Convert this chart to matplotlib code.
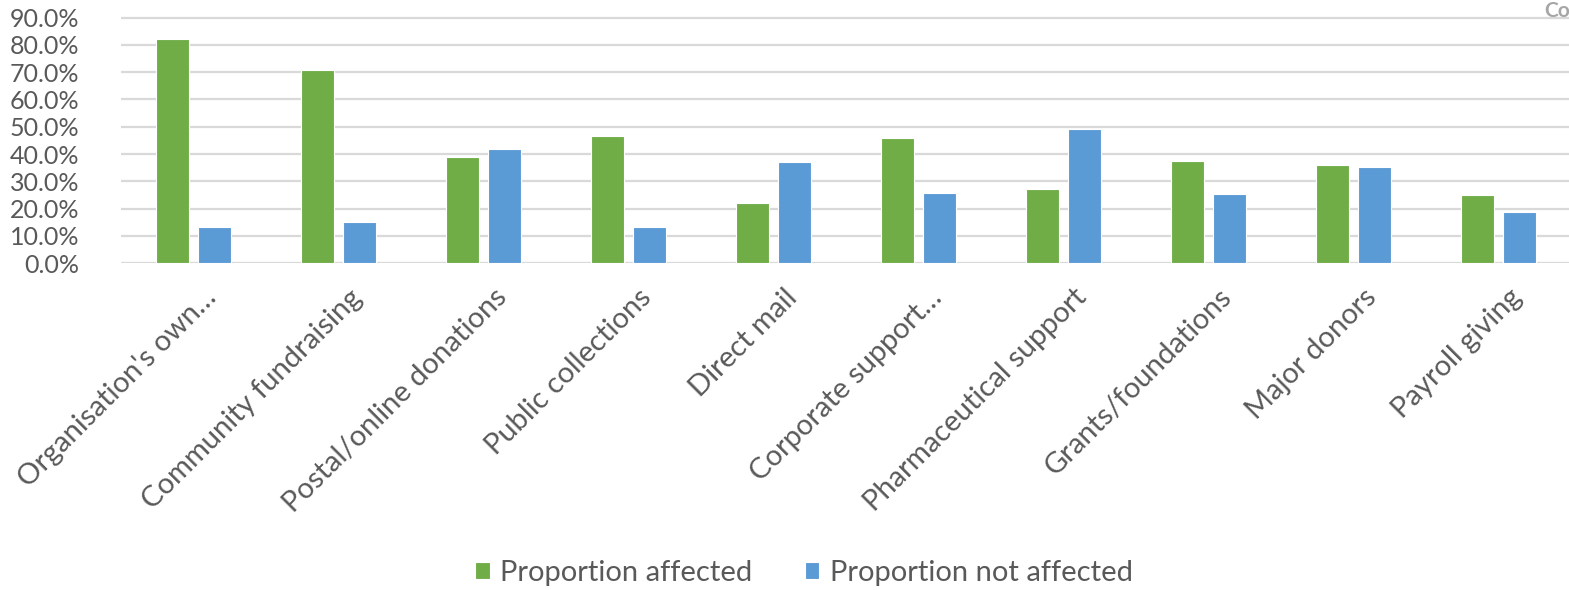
import numpy as np
import matplotlib.pyplot as plt
import matplotlib.transforms as mtransforms
from matplotlib.ticker import PercentFormatter

# fundraising sources and share of organisations affected / not affected
sources = ["Organisation's own…", "Community fundraising", "Postal/online donations",
           "Public collections", "Direct mail", "Corporate support…",
           "Pharmaceutical support", "Grants/foundations", "Major donors", "Payroll giving"]
affected = [0.820, 0.707, 0.389, 0.468, 0.220, 0.459, 0.271, 0.374, 0.361, 0.249]
not_affected = [0.132, 0.151, 0.417, 0.132, 0.370, 0.258, 0.491, 0.252, 0.351, 0.188]

green = "#70AD47"
blue = "#5B9BD5"
grey = "#595959"

plt.rcParams["font.family"] = ["Lato", "DejaVu Sans"]

fig = plt.figure(figsize=(15.69, 5.90), dpi=100)
# axes placed in pixel terms: 0% at y=263, 91% at y=15, left at x=121
H, W = 590, 1569
ax = fig.add_axes([121 / W, (H - 263.3) / H, 1450 / W, (263.3 - 14.8) / H])

x = np.arange(len(sources))
w = 0.225
ax.bar(x - 0.143, affected, w, color=green, edgecolor="white", linewidth=0.8,
       label="Proportion affected", zorder=3)
ax.bar(x + 0.143, not_affected, w, color=blue, edgecolor="white", linewidth=0.8,
       label="Proportion not affected", zorder=3)

ax.set_xlim(-0.5, len(sources) - 0.5)
ax.set_ylim(0, 0.91)
ax.set_yticks(np.arange(0, 0.91, 0.1))
ax.yaxis.set_major_formatter(PercentFormatter(1.0, decimals=1))
ax.grid(axis="y", color="#D9D9D9", linewidth=1.6, zorder=0)
for s in ax.spines.values():
    s.set_visible(False)
ax.tick_params(axis="y", length=0, pad=30, labelsize=18, labelcolor=grey)
ax.tick_params(axis="x", length=0, pad=15, labelsize=21, labelcolor=grey)

ax.set_xticks(x)
ax.set_xticklabels(sources, rotation=45, ha="right", va="top", rotation_mode="anchor")
shift = mtransforms.ScaledTranslation(10 / 100, 0, fig.dpi_scale_trans)
for lbl in ax.get_xticklabels():
    lbl.set_transform(lbl.get_transform() + shift)

fig.legend(loc="center", bbox_to_anchor=(804 / W, 1 - 573 / H), ncol=2, frameon=False,
           fontsize=21, labelcolor=grey, handlelength=0.5, handleheight=0.5,
           handletextpad=0.35, columnspacing=1.8)

fig.text(1544 / W, 1 - 1 / H, "Co", ha="left", va="top", fontsize=15,
         fontweight="bold", color="#A6A6A6")

fig.savefig("out.png", dpi=100)
